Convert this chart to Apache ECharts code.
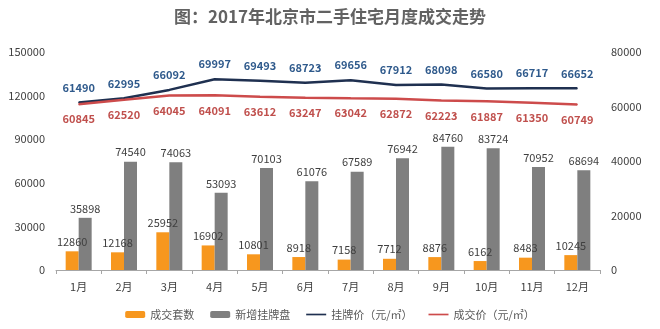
<!DOCTYPE html>
<html>
<head>
<meta charset="utf-8">
<script src="https://cdn.jsdelivr.net/npm/echarts@6/dist/echarts.min.js"></script>
<style>html,body{margin:0;padding:0;background:#fff;}#c{width:660px;height:329px;}</style>
</head>
<body>
<div id="c"></div>
<script>
var months = ['1月','2月','3月','4月','5月','6月','7月','8月','9月','10月','11月','12月'];
var dealCount = [12860, 12168, 25952, 16902, 10801, 8918, 7158, 7712, 8876, 6162, 8483, 10245];
var newListings = [35898, 74540, 74063, 53093, 70103, 61076, 67589, 76942, 84760, 83724, 70952, 68694];
var listPrice = [61490, 62995, 66092, 69997, 69493, 68723, 69656, 67912, 68098, 66580, 66717, 66652];
var dealPrice = [60845, 62520, 64045, 64091, 63612, 63247, 63042, 62872, 62223, 61887, 61350, 60749];

var FF = '"Noto Sans CJK SC", "Noto Sans", sans-serif';
var plain = function (v) { return String(v); };
var lineIcon = 'path://M0,0H24V2H0Z';
var chart = echarts.init(document.getElementById('c'));
chart.setOption({
  backgroundColor: '#fff',
  textStyle: {fontFamily: FF},
  title: {
    text: '图：2017年北京市二手住宅月度成交走势',
    left: 'center', top: 3,
    textStyle: {fontSize: 17, fontWeight: 'bold', color: '#626262', fontFamily: FF}
  },
  legend: {
    bottom: 4, left: 'center',
    itemWidth: 20, itemHeight: 7, itemGap: 16,
    textStyle: {fontSize: 11, color: '#595959', fontFamily: FF},
    data: [
      {name: '成交套数'},
      {name: '新增挂牌盘'},
      {name: '挂牌价（元/㎡）', icon: lineIcon},
      {name: '成交价（元/㎡）', icon: lineIcon}
    ]
  },
  grid: {left: 56, right: 60, top: 52, bottom: 59},
  xAxis: {
    type: 'category', data: months,
    axisLine: {lineStyle: {color: '#A6A6A6'}},
    axisTick: {show: true, lineStyle: {color: '#A6A6A6'}, length: 4},
    axisLabel: {color: '#404040', fontSize: 11, margin: 11, fontFamily: FF}
  },
  yAxis: [{
    type: 'value', min: 0, max: 150000, interval: 30000,
    axisLine: {show: false}, axisTick: {show: false}, splitLine: {show: false},
    axisLabel: {color: '#404040', fontSize: 11, margin: 11, fontFamily: FF, formatter: plain}
  }, {
    type: 'value', min: 0, max: 80000, interval: 20000,
    axisLine: {show: false}, axisTick: {show: false}, splitLine: {show: false},
    axisLabel: {color: '#404040', fontSize: 11, margin: 11, fontFamily: FF, formatter: plain}
  }],
  series: [{
    name: '成交套数', type: 'bar', yAxisIndex: 0, data: dealCount,
    barWidth: 13, barGap: '0%',
    itemStyle: {color: '#F7971E'},
    label: {show: true, position: 'top', distance: 4, color: '#404040', fontSize: 11, fontFamily: FF}
  }, {
    name: '新增挂牌盘', type: 'bar', yAxisIndex: 0, data: newListings,
    barWidth: 13, barGap: '0%',
    itemStyle: {color: '#7F7F7F'},
    label: {show: true, position: 'top', distance: 4, color: '#404040', fontSize: 11, fontFamily: FF}
  }, {
    name: '挂牌价（元/㎡）', type: 'line', yAxisIndex: 1, data: listPrice,
    symbol: 'circle', symbolSize: 1, showSymbol: true,
    lineStyle: {color: '#1F3050', width: 2.5},
    itemStyle: {color: '#1F3050'},
    label: {show: true, position: 'top', distance: 9, color: '#2F5A8C', fontSize: 11, fontWeight: 'bold', fontFamily: FF}
  }, {
    name: '成交价（元/㎡）', type: 'line', yAxisIndex: 1, data: dealPrice,
    symbol: 'circle', symbolSize: 1, showSymbol: true,
    lineStyle: {color: '#CD4B4B', width: 2.5},
    itemStyle: {color: '#CD4B4B'},
    label: {show: true, position: 'bottom', distance: 9, color: '#C0504D', fontSize: 11, fontWeight: 'bold', fontFamily: FF}
  }]
});
</script>
</body>
</html>
